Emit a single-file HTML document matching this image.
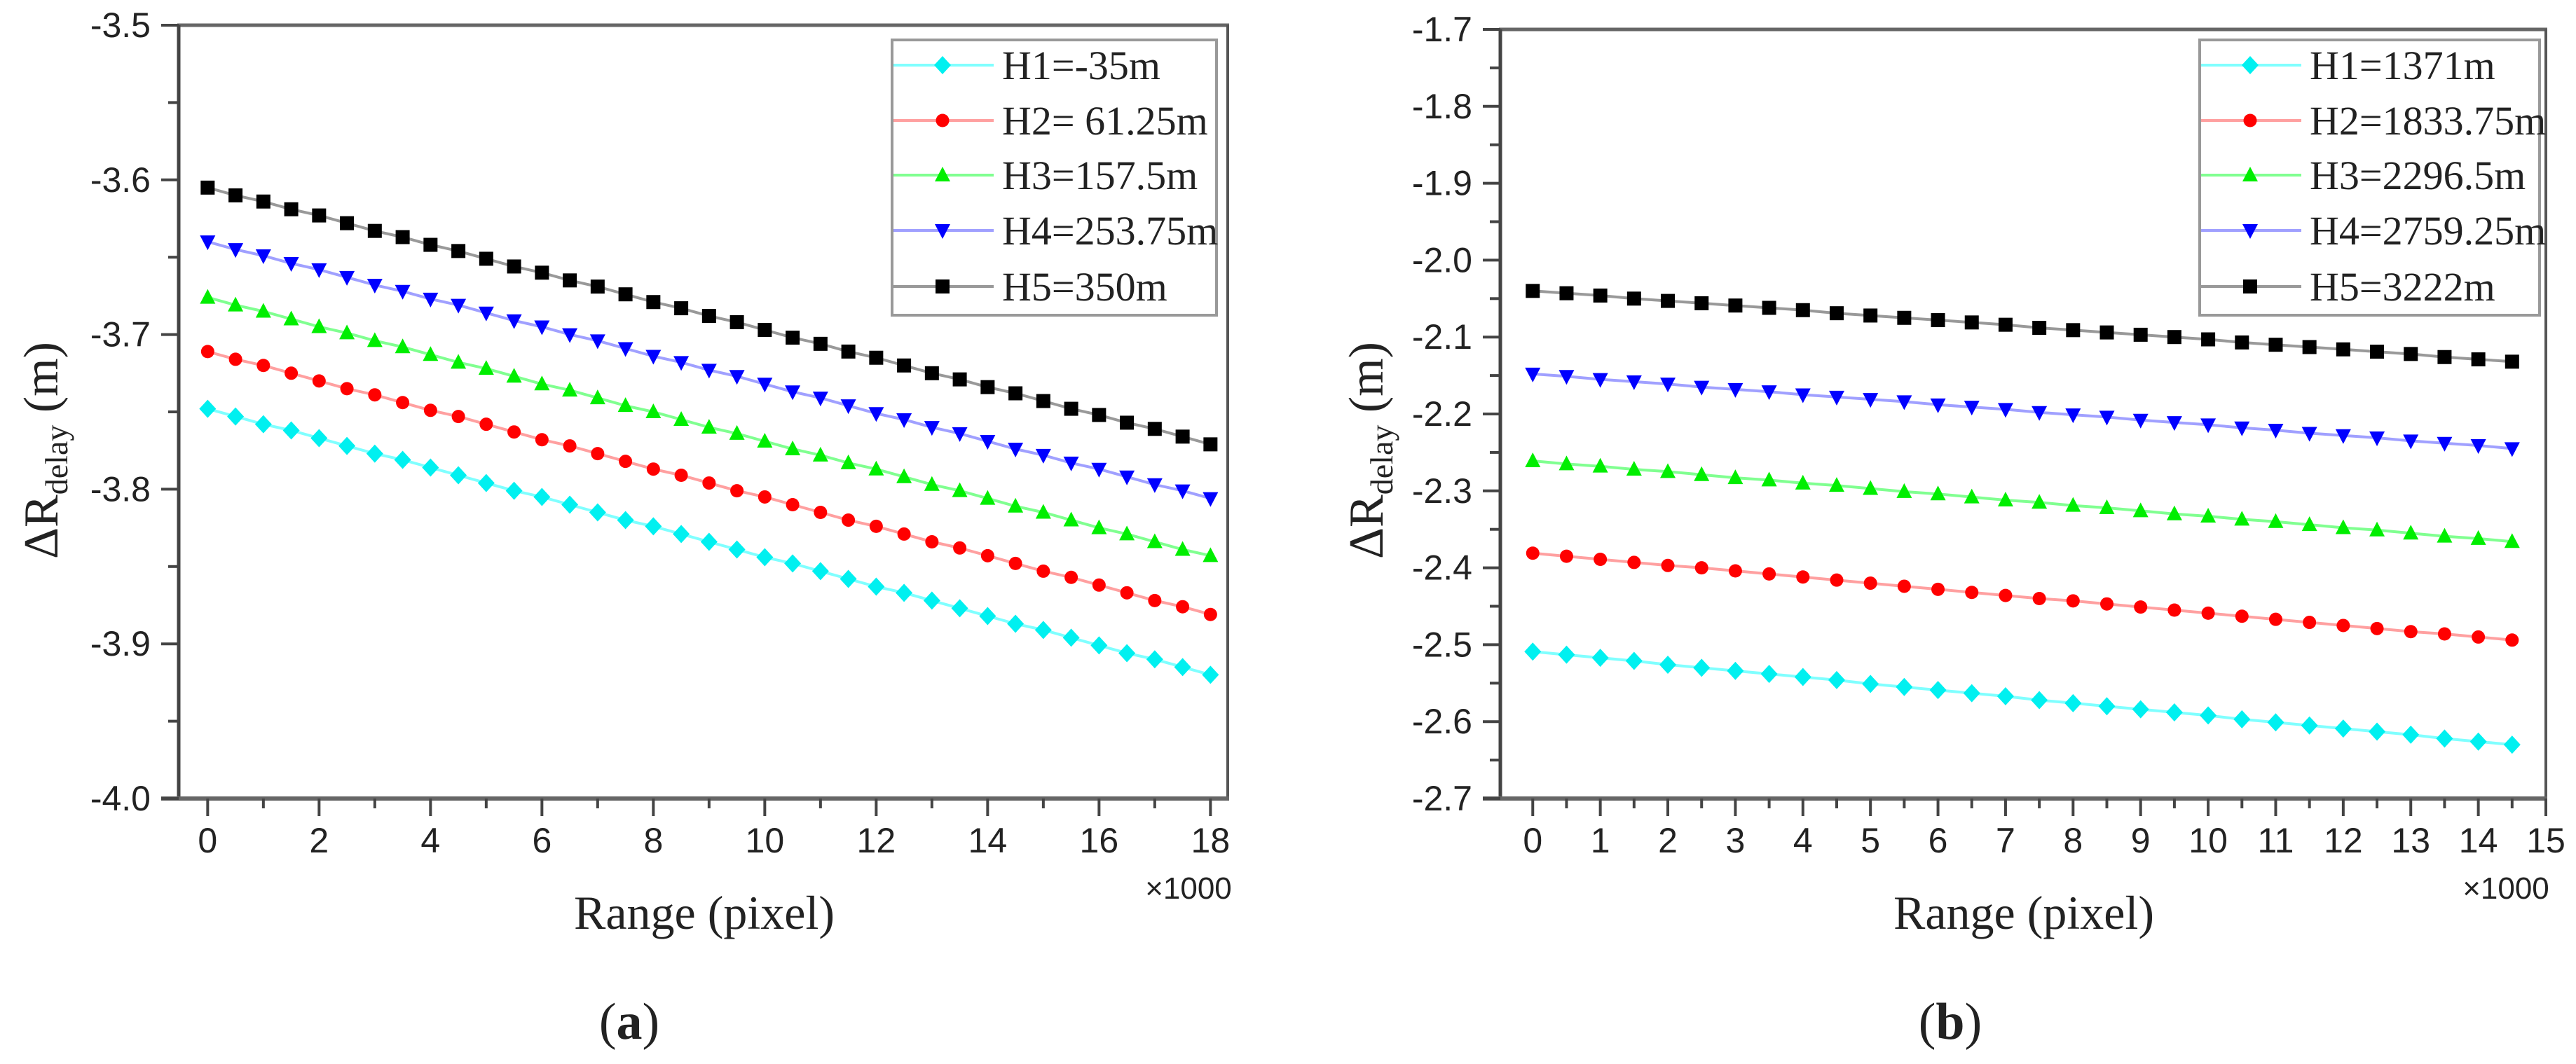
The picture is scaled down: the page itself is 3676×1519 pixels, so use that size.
<!DOCTYPE html>
<html><head><meta charset="utf-8"><style>
html,body{margin:0;padding:0;background:#fff;}
svg{display:block;}
</style></head><body>
<svg id="fig" width="3676" height="1519" viewBox="0 0 3676 1519" xmlns="http://www.w3.org/2000/svg" font-family="Liberation Sans, sans-serif"></svg>
<script>
// ---- Panel (a) data ----
const xA = [0,0.5,1,1.5,2,2.5,3,3.5,4,4.5,5,5.5,6,6.5,7,7.5,8,8.5,9,9.5,10,10.5,11,11.5,12,12.5,13,13.5,14,14.5,15,15.5,16,16.5,17,17.5,18];
const a_H1 = [-3.748,-3.753,-3.758,-3.762,-3.767,-3.772,-3.777,-3.781,-3.786,-3.791,-3.796,-3.801,-3.805,-3.810,-3.815,-3.820,-3.824,-3.829,-3.834,-3.839,-3.844,-3.848,-3.853,-3.858,-3.863,-3.867,-3.872,-3.877,-3.882,-3.887,-3.891,-3.896,-3.901,-3.906,-3.910,-3.915,-3.920];
const a_H2 = [-3.711,-3.716,-3.720,-3.725,-3.730,-3.735,-3.739,-3.744,-3.749,-3.753,-3.758,-3.763,-3.768,-3.772,-3.777,-3.782,-3.787,-3.791,-3.796,-3.801,-3.805,-3.810,-3.815,-3.820,-3.824,-3.829,-3.834,-3.838,-3.843,-3.848,-3.853,-3.857,-3.862,-3.867,-3.872,-3.876,-3.881];
const a_H3 = [-3.676,-3.681,-3.685,-3.690,-3.695,-3.699,-3.704,-3.708,-3.713,-3.718,-3.722,-3.727,-3.732,-3.736,-3.741,-3.746,-3.750,-3.755,-3.760,-3.764,-3.769,-3.774,-3.778,-3.783,-3.787,-3.792,-3.797,-3.801,-3.806,-3.811,-3.815,-3.820,-3.825,-3.829,-3.834,-3.839,-3.843];
const a_H4 = [-3.640,-3.645,-3.649,-3.654,-3.658,-3.663,-3.668,-3.672,-3.677,-3.681,-3.686,-3.691,-3.695,-3.700,-3.704,-3.709,-3.714,-3.718,-3.723,-3.727,-3.732,-3.737,-3.741,-3.746,-3.751,-3.755,-3.760,-3.764,-3.769,-3.774,-3.778,-3.783,-3.787,-3.792,-3.797,-3.801,-3.806];
const a_H5 = [-3.605,-3.610,-3.614,-3.619,-3.623,-3.628,-3.633,-3.637,-3.642,-3.646,-3.651,-3.656,-3.660,-3.665,-3.669,-3.674,-3.679,-3.683,-3.688,-3.692,-3.697,-3.702,-3.706,-3.711,-3.715,-3.720,-3.725,-3.729,-3.734,-3.738,-3.743,-3.748,-3.752,-3.757,-3.761,-3.766,-3.771];
const a_labels = ["H1=-35m","H2= 61.25m","H3=157.5m","H4=253.75m","H5=350m"];
const a_yTicks = [-3.5,-3.6,-3.7,-3.8,-3.9,-4.0];
const a_xTicks = [0,2,4,6,8,10,12,14,16,18];

// ---- Panel (b) data ----
const xB = [0,0.5,1,1.5,2,2.5,3,3.5,4,4.5,5,5.5,6,6.5,7,7.5,8,8.5,9,9.5,10,10.5,11,11.5,12,12.5,13,13.5,14,14.5];
const b_H1 = [-2.509,-2.513,-2.517,-2.521,-2.526,-2.530,-2.534,-2.538,-2.542,-2.546,-2.551,-2.555,-2.559,-2.563,-2.567,-2.572,-2.576,-2.580,-2.584,-2.588,-2.592,-2.597,-2.601,-2.605,-2.609,-2.613,-2.617,-2.622,-2.626,-2.630];
const b_H2 = [-2.381,-2.385,-2.389,-2.393,-2.397,-2.400,-2.404,-2.408,-2.412,-2.416,-2.420,-2.424,-2.428,-2.432,-2.436,-2.440,-2.443,-2.447,-2.451,-2.455,-2.459,-2.463,-2.467,-2.471,-2.475,-2.479,-2.483,-2.486,-2.490,-2.494];
const b_H3 = [-2.261,-2.265,-2.268,-2.272,-2.275,-2.279,-2.283,-2.286,-2.290,-2.293,-2.297,-2.301,-2.304,-2.308,-2.312,-2.315,-2.319,-2.322,-2.326,-2.330,-2.333,-2.337,-2.340,-2.344,-2.348,-2.351,-2.355,-2.359,-2.362,-2.366];
const b_H4 = [-2.148,-2.151,-2.155,-2.158,-2.161,-2.165,-2.168,-2.171,-2.175,-2.178,-2.181,-2.184,-2.188,-2.191,-2.194,-2.198,-2.201,-2.204,-2.208,-2.211,-2.214,-2.218,-2.221,-2.225,-2.228,-2.231,-2.235,-2.238,-2.241,-2.245];
const b_H5 = [-2.040,-2.043,-2.046,-2.050,-2.053,-2.056,-2.059,-2.062,-2.065,-2.069,-2.072,-2.075,-2.078,-2.081,-2.084,-2.088,-2.091,-2.094,-2.097,-2.100,-2.103,-2.107,-2.110,-2.113,-2.116,-2.119,-2.122,-2.126,-2.129,-2.132];
const b_labels = ["H1=1371m","H2=1833.75m","H3=2296.5m","H4=2759.25m","H5=3222m"];
const b_yTicks = [-1.7,-1.8,-1.9,-2.0,-2.1,-2.2,-2.3,-2.4,-2.5,-2.6,-2.7];
const b_xTicks = [0,1,2,3,4,5,6,7,8,9,10,11,12,13,14,15];

const NS = "http://www.w3.org/2000/svg";
const svg = document.getElementById('fig');
function mk(tag, attrs, parent){const e=document.createElementNS(NS,tag);for(const k in attrs)e.setAttribute(k,attrs[k]);(parent||svg).appendChild(e);return e;}

const styles = [
  {c:'#00f0f0', l:'#80ffff', m:'diamond'},
  {c:'#ff0000', l:'#ffa0a0', m:'circle'},
  {c:'#00ee00', l:'#80ff90', m:'triangle'},
  {c:'#0000ff', l:'#a0a0ff', m:'tridown'},
  {c:'#000000', l:'#999999', m:'square'}
];

function marker(g, type, cx, cy, color){
  let e;
  if(type==='square') e=mk('rect',{x:cx-10,y:cy-10,width:20,height:20,fill:color},g);
  else if(type==='circle') e=mk('circle',{cx:cx,cy:cy,r:9.5,fill:color},g);
  else if(type==='diamond') e=mk('polygon',{points:`${cx},${cy-13} ${cx+12},${cy} ${cx},${cy+13} ${cx-12},${cy}`,fill:color},g);
  else if(type==='triangle') e=mk('polygon',{points:`${cx},${cy-12} ${cx+11},${cy+9} ${cx-11},${cy+9}`,fill:color},g);
  else e=mk('polygon',{points:`${cx-11},${cy-9} ${cx+11},${cy-9} ${cx},${cy+12}`,fill:color},g);
  
  
  return e;
}

function panel(cfg){
  const {id,L,R,T,B,xmin,xmax,ymin,ymax,xs,series,labels,yTicks,xTicks,xMinorStep,leg,ylab,title,titleX,rangeX,timesX} = cfg;
  const X = v => L + (v - xmin)/(xmax - xmin)*(R - L);
  const Y = v => T + (ymax - v)/(ymax - ymin)*(B - T);
  const g = mk('g',{});
  
  
  const fr = mk('g',{},g);
  
  
  mk('line',{x1:L-2,y1:T,x2:R+2,y2:T,stroke:'#666','stroke-width':5},fr);
  mk('line',{x1:R,y1:T,x2:R,y2:B,stroke:'#555','stroke-width':4},fr);
  const ya = mk('line',{x1:L,y1:T,x2:L,y2:B+2,stroke:'#444','stroke-width':5},fr);
  
  
  const xa = mk('line',{x1:L-25,y1:B,x2:R+2,y2:B,stroke:'#666','stroke-width':6},fr);
  
  
  for(const t of yTicks){
    const y=Y(t);
    mk('line',{x1:L-25,y1:y,x2:L,y2:y,stroke:'#444','stroke-width':4},g);
    const tx=mk('text',{x:L-40,y:y+17,'text-anchor':'end','font-size':50,fill:'#222'},g);
    tx.textContent=t.toFixed(1);
    
    
  }
  for(let i=0;i<yTicks.length-1;i++){
    const y=Y((yTicks[i]+yTicks[i+1])/2);
    mk('line',{x1:L-15,y1:y,x2:L,y2:y,stroke:'#444','stroke-width':4},g);
  }
  for(const t of xTicks){
    const x=X(t);
    mk('line',{x1:x,y1:B,x2:x,y2:B+25,stroke:'#444','stroke-width':4},g);
    const tx=mk('text',{x:x,y:B+77,'text-anchor':'middle','font-size':50,fill:'#222'},g);
    tx.textContent=String(t);
    
    
  }
  for(let v=xTicks[0]+xMinorStep; v<xTicks[xTicks.length-1]; v+=2*xMinorStep){
    const x=X(v);
    mk('line',{x1:x,y1:B,x2:x,y2:B+14,stroke:'#444','stroke-width':4},g);
  }
  series.forEach((ys,si)=>{
    const st=styles[si];
    const sg=mk('g',{},g);
    
    
    const pts=xs.map((x,i)=>X(x).toFixed(1)+','+Y(ys[i]).toFixed(1)).join(' ');
    const pl=mk('polyline',{points:pts,fill:'none',stroke:st.l,'stroke-width':4},sg);
    
    
    xs.forEach((x,i)=>marker(sg,st.m,X(x),Y(ys[i]),st.c));
  });
  const lg=mk('g',{},g);
  
  
  mk('rect',{x:leg.x,y:leg.y,width:leg.w,height:leg.h,fill:'#fff',stroke:'#999','stroke-width':4},lg);
  const rowsY=[93,172,250,329,409];
  labels.forEach((lab,i)=>{
    const st=styles[i];
    const e=mk('g',{},lg);
    
    
    mk('line',{x1:leg.x+2,y1:rowsY[i],x2:leg.x+145,y2:rowsY[i],stroke:st.l,'stroke-width':4},e);
    marker(e,st.m,leg.x+72,rowsY[i],st.c);
    const tx=mk('text',{x:leg.x+157,y:rowsY[i]+20,'font-size':58,'font-family':'Liberation Serif, serif',fill:'#222'},e);
    tx.textContent=lab;
  });
  const xt=mk('text',{x:rangeX,y:1326,'text-anchor':'middle','font-size':68,'font-family':'Liberation Serif, serif',fill:'#222'},g);
  xt.textContent='Range (pixel)';
  
  
  const tm=mk('text',{x:timesX,y:1283,'text-anchor':'middle','font-size':44,fill:'#222'},g);
  tm.textContent='×1000';
  
  
  const yt=mk('text',{x:0,y:0,'text-anchor':'middle','font-size':70,'font-family':'Liberation Serif, serif',fill:'#222',transform:`translate(${ylab+24},643) rotate(-90)`},g);
  yt.innerHTML='ΔR<tspan font-size="46" dy="14">delay</tspan><tspan dy="-14"> (m)</tspan>';
  
  
  const pt=mk('text',{x:titleX,y:1483,'text-anchor':'middle','font-size':74,'font-family':'Liberation Serif, serif',fill:'#222'},g);
  pt.innerHTML='(<tspan font-weight="bold">'+title+'</tspan>)';
  
  
}

panel({id:'a',L:255,R:1752,T:36,B:1140,xmin:-0.52,xmax:18.31,ymin:-4.0,ymax:-3.5,xs:xA,
  series:[a_H1,a_H2,a_H3,a_H4,a_H5],labels:a_labels,yTicks:a_yTicks,xTicks:a_xTicks,xMinorStep:1,
  leg:{x:1273,y:57,w:463,h:393},ylab:58,title:'a',titleX:898,rangeX:1005,timesX:1696});
panel({id:'b',L:2141,R:3633,T:42,B:1140,xmin:-0.48,xmax:15,ymin:-2.7,ymax:-1.7,xs:xB,
  series:[b_H1,b_H2,b_H3,b_H4,b_H5],labels:b_labels,yTicks:b_yTicks,xTicks:b_xTicks,xMinorStep:0.5,
  leg:{x:3139,y:57,w:485,h:393},ylab:1949,title:'b',titleX:2783,rangeX:2888,timesX:3576});
</script>
</body></html>
